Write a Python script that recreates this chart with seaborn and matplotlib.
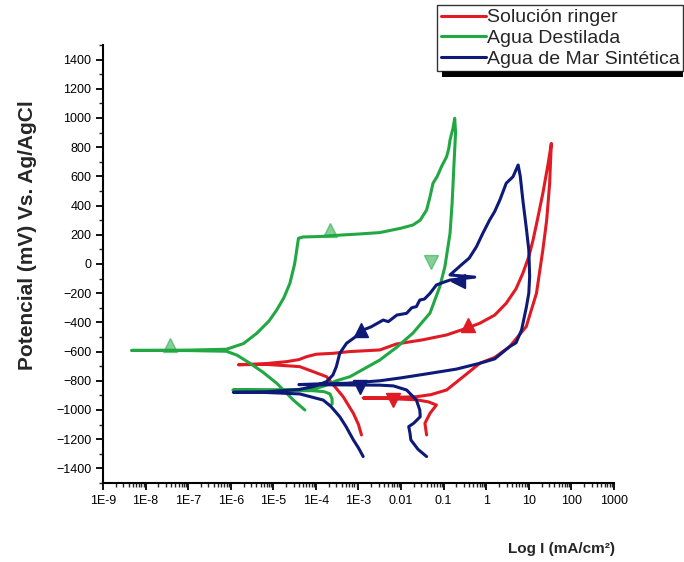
import numpy as np
import pandas as pd
import seaborn as sns
import matplotlib.pyplot as plt
from matplotlib.patches import Rectangle
from matplotlib.ticker import FixedLocator, LogLocator, MultipleLocator, NullFormatter

# Datos: log10(I) en mA/cm2 y potencial en mV
ringer_logi = [-2.93, -3.0, -3.12, -3.36, -3.75, -4.38, -5.16, -5.82, -5.2, -4.69, -4.4, -4.22,
               -3.99, -3.6, -3.2, -2.5, -2.11, -1.5, -0.93, -0.46, -0.15, 0.2, 0.47, 0.7, 0.86,
               1.0, 1.1, 1.2, 1.33, 1.45, 1.53,
               1.51, 1.49, 1.42, 1.33, 1.18, 0.94, 0.55, 0.2, -0.15, -0.54, -0.93, -1.3, -1.64,
               -2.3, -2.89, -2.3, -1.64, -1.35, -1.17, -1.32, -1.44, -1.4]
ringer_mv = [-1171, -1100, -1023, -909, -772, -703, -688, -690, -683, -669, -655, -635,
             -618, -612, -600, -589, -548, -520, -486, -440, -406, -350, -269, -170, -64,
             50, 164, 300, 484, 680, 826,
             700, 553, 300, 96, -201, -429, -566, -640, -680, -772, -863, -895, -909,
             -915, -918, -922, -930, -945, -966, -1023, -1091, -1171]

destilada_logi = [-4.26, -4.53, -4.92, -5.25, -5.55, -5.85, -6.1, -7.0, -8.33, -7.0, -6.1, -5.7,
                  -5.39, -5.1, -4.92, -4.75, -4.61, -4.5, -4.45, -4.41, -4.3, -3.9, -3.59, -3.0,
                  -2.5, -2.0, -1.72, -1.55, -1.4, -1.32, -1.25, -1.15, -1.05, -0.93, -0.88,
                  -0.85, -0.78, -0.74,
                  -0.72, -0.76, -0.8, -0.85, -0.97, -1.09, -1.32, -1.72, -2.1, -2.5, -3.2,
                  -3.52, -3.8, -4.07, -5.0, -5.95, -5.0, -4.07, -3.8, -3.67, -3.62, -3.62]
destilada_mv = [-1000, -932, -817, -740, -680, -625, -598, -593, -592, -590, -584, -545,
                -475, -390, -315, -230, -132, 0, 96, 176, 185, 188, 195, 205,
                215, 245, 267, 300, 370, 461, 553, 600, 667, 735, 790,
                849, 930, 998,
                900, 667, 420, 210, -18, -155, -336, -473, -570, -658, -772,
                -800, -835, -858, -862, -863, -866, -868, -875, -890, -925, -960]

mar_logi = [-2.89, -3.0, -3.12, -3.3, -3.44, -3.65, -3.83, -4.38, -5.2, -5.94, -5.2, -4.4,
            -4.06, -3.75, -3.6, -3.52, -3.44, -3.28, -3.1, -2.97, -2.89, -2.7, -2.42, -2.3,
            -2.1, -1.87, -1.75, -1.64, -1.56, -1.45, -1.32, -1.17, -1.0, -0.85, -0.27,
            -0.85, -0.54, -0.4, -0.23, -0.08, 0.08, 0.2, 0.32, 0.47, 0.63, 0.75,
            0.8, 0.86, 0.94, 1.0, 1.02, 1.0, 0.94, 0.83, 0.7, 0.55, 0.2, -0.15, -0.7,
            -1.32, -2.0, -2.5, -3.28, -4.0, -4.4, -3.5, -2.5, -2.18, -1.87, -1.64, -1.56,
            -1.55, -1.7, -1.82, -1.79, -1.77, -1.6, -1.4]
mar_mv = [-1319, -1260, -1205, -1110, -1046, -975, -932, -890, -880, -879, -876, -860,
          -840, -806, -760, -703, -612, -543, -505, -475, -452, -430, -384, -395,
          -350, -338, -300, -292, -247, -240, -201, -144, -125, -110, -90,
          -75, 5, 40, 118, 210, 301, 360, 438, 553, 598, 678,
          600, 438, 250, 96, -87, -200, -300, -452, -540, -566, -650, -680, -720,
          -749, -780, -800, -817, -822, -826, -828, -830, -835, -863, -932, -1000,
          -1046, -1090, -1114, -1160, -1205, -1270, -1319]

series = ["Solución ringer", "Agua Destilada", "Agua de Mar Sintética"]
colores = ["#e01b24", "#22a843", "#0d1a78"]

# Marcadores de direccion de barrido
flecha_logi = [-7.43, -3.67, -1.29, -0.42, -2.19, -2.93, -0.66, -2.97]
flecha_mv = [-555, 230, 15, -415, -935, -455, -115, -845]
flecha_tipo = ["^", "^", "v", "^", "v", "^", "<", "v"]
flecha_serie = [1, 1, 1, 0, 0, 2, 2, 2]

xticks_lab = ["1E-9", "1E-8", "1E-7", "1E-6", "1E-5", "1E-4", "1E-3",
              "0.01", "0.1", "1", "10", "100", "1000"]

frames = []
for nombre, li, mv in zip(series,
                          [ringer_logi, destilada_logi, mar_logi],
                          [ringer_mv, destilada_mv, mar_mv]):
    frames.append(pd.DataFrame({"I": 10.0 ** np.array(li), "E": mv, "serie": nombre}))
df = pd.concat(frames, ignore_index=True)

sns.set_style("ticks")
plt.rcParams["font.family"] = ["Liberation Sans", "DejaVu Sans"]

fig = plt.figure(figsize=(6.84, 5.62), dpi=100)
ax = fig.add_axes([0.1506, 0.1406, 0.747, 0.7794])

sns.lineplot(data=df, x="I", y="E", hue="serie", hue_order=series,
             palette=colores, sort=False, estimator=None, linewidth=2.2, ax=ax)

for li, mv, m, s in zip(flecha_logi, flecha_mv, flecha_tipo, flecha_serie):
    alfa = 0.55 if s == 1 else 1.0
    ax.plot(10.0 ** li, mv, marker=m, markersize=10, color=colores[s],
            alpha=alfa, linestyle="none")

ax.set_xscale("log")
ax.set_xlim(1e-9, 1e3)
ax.set_ylim(-1500, 1500)
ax.xaxis.set_major_locator(FixedLocator([10.0 ** k for k in range(-9, 4)]))
ax.set_xticklabels(xticks_lab)
ax.xaxis.set_minor_locator(LogLocator(base=10, subs=np.arange(2, 10), numticks=30))
ax.xaxis.set_minor_formatter(NullFormatter())
ax.set_yticks(np.arange(-1400, 1401, 200))
ax.yaxis.set_minor_locator(MultipleLocator(100))

ax.tick_params(axis="both", which="major", labelsize=9, length=5, width=1.3,
               direction="out", colors="black")
ax.tick_params(axis="both", which="minor", length=3, width=1.0, direction="out")
for lado in ["top", "right"]:
    ax.spines[lado].set_visible(False)
for lado in ["left", "bottom"]:
    ax.spines[lado].set_linewidth(1.5)
    ax.spines[lado].set_color("black")

ax.set_xlabel("")
ax.set_ylabel("")
fig.text(28 / 684, 1 - 235 / 562, "Potencial (mV) Vs. Ag/AgCl", rotation=90,
         ha="center", va="center", fontsize=15, fontweight="bold")
fig.text(615 / 684, 1 - 549 / 562, "Log I (mA/cm²)", ha="right", va="center",
         fontsize=11, fontweight="bold")

handles, labels = ax.get_legend_handles_labels()
ax.get_legend().remove()
leg = fig.legend(handles[:3], labels[:3], loc="upper right", bbox_to_anchor=(0.999, 1 - 5 / 562),
                 frameon=True, shadow=False, fancybox=False, edgecolor="black",
                 fontsize=14, handlelength=2.3,
                 handletextpad=0.05, borderpad=0.2, labelspacing=0.15, borderaxespad=0)
leg.get_frame().set_linewidth(1.0)

# sombra negra bajo la leyenda
fig.canvas.draw()
caja = leg.get_window_extent().transformed(fig.transFigure.inverted())
fig.add_artist(Rectangle((caja.x0 + 5 / 684, caja.y0 - 6 / 562), caja.width - 5 / 684, 6 / 562,
                         transform=fig.transFigure, facecolor="black", edgecolor="none",
                         zorder=1))

fig.savefig("out.png", dpi=100, facecolor="white")
